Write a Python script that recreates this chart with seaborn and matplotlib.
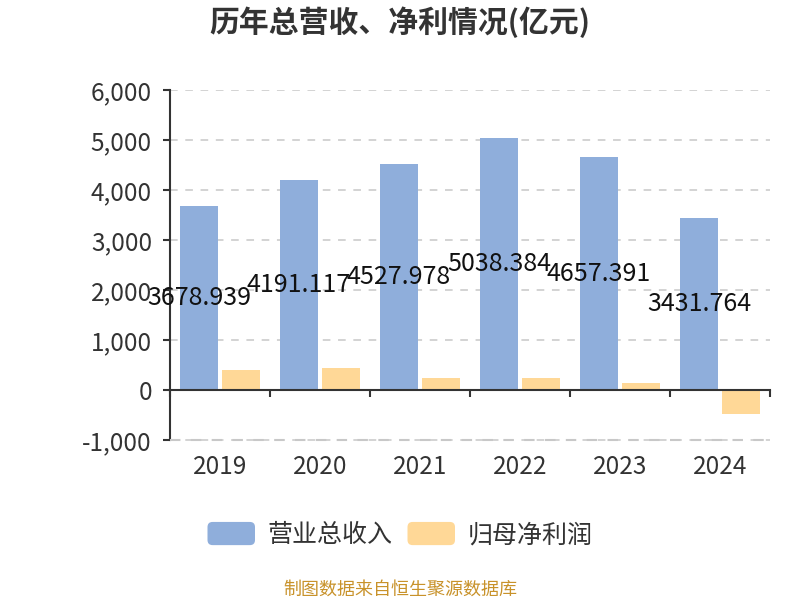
import numpy as np
import pandas as pd
import matplotlib
matplotlib.use('Agg')
import matplotlib.pyplot as plt
import seaborn as sns
from matplotlib.patches import FancyBboxPatch, Patch
from matplotlib.legend_handler import HandlerPatch
from matplotlib.ticker import FuncFormatter

# ---- data ----
years = ['2019', '2020', '2021', '2022', '2023', '2024']
revenue = [3678.939, 4191.117, 4527.978, 5038.384, 4657.391, 3431.764]
net_profit = [405, 435, 235, 240, 140, -475]
series_names = ['营业总收入', '归母净利润']
colors = ['#8FAEDB', '#FFD897']
yticks = [-1000, 0, 1000, 2000, 3000, 4000, 5000, 6000]
title = '历年总营收、净利情况(亿元)'
source = '制图数据来自恒生聚源数据库'

sns.set_theme(style='white')
plt.rcParams['font.family'] = ['Noto Sans CJK SC', 'DejaVu Sans']
plt.rcParams['axes.unicode_minus'] = False

df = pd.DataFrame({
    'year': years * 2,
    'value': revenue + net_profit,
    'series': [series_names[0]] * len(years) + [series_names[1]] * len(years),
})

fig = plt.figure(figsize=(8, 6), dpi=100)
ax = fig.add_axes([0.2125, 1 - 441 / 600, 0.75, 351 / 600])
sns.barplot(data=df, x='year', y='value', hue='series', palette=colors,
            width=0.84, gap=0.1, saturation=1, linewidth=0, ax=ax, legend=False)

ax.set_xlim(-0.5, len(years) - 0.5)
ax.set_ylim(yticks[0] - 20, yticks[-1])
ax.set_yticks(yticks)
ax.yaxis.set_major_formatter(FuncFormatter(lambda v, p: f'{v:,.0f}'))
ax.set_xlabel('')
ax.set_ylabel('')

# value labels for revenue
ax.bar_label(ax.containers[0], labels=[f'{v:.3f}' for v in revenue],
             label_type='center', fontsize=18, color='#111111')

# spines
for s in ['top', 'right']:
    ax.spines[s].set_visible(False)
ax.spines['left'].set_color('#333333')
ax.spines['left'].set_linewidth(1.5)
ax.spines['left'].set_bounds(yticks[0], yticks[-1])
ax.spines['bottom'].set_position(('data', 0))
ax.spines['bottom'].set_color('#333333')
ax.spines['bottom'].set_linewidth(1.5)

# ticks
ax.tick_params(axis='y', left=True, length=5, width=1.5, color='#333333',
               labelsize=17.5, labelcolor='#333333', pad=8)
ax.set_xticks(list(np.arange(len(years)) - 0.5) + [len(years) - 0.5], minor=True)
ax.tick_params(axis='x', which='minor', bottom=True, length=5, width=1.5, color='#333333')
ax.tick_params(axis='x', which='major', bottom=True, length=0, labelsize=17.5,
               labelcolor='#333333', pad=46)

# grid
ax.yaxis.grid(True, linestyle=(0, (5, 5)), color='#c8c8c8', linewidth=1.1)
ax.xaxis.grid(False)
ax.set_axisbelow(True)
ax.axhline(yticks[0], linestyle=(0, (5, 5)), color='#c8c8c8', linewidth=1.5,
           clip_on=False, zorder=5)

# title & source
fig.text(0.5, 1 - 22 / 600, title, ha='center', va='center', fontsize=21.5,
         fontweight='bold', color='#333333')
fig.text(0.5, 1 - 590 / 600, source, ha='center', va='center', fontsize=13,
         color='#C8922A')


class RoundHandler(HandlerPatch):
    def create_artists(self, legend, orig_handle, xdescent, ydescent, width,
                       height, fontsize, trans):
        p = FancyBboxPatch((-xdescent, -ydescent), width, height,
                           boxstyle=f'round,pad=0,rounding_size={height * 0.22}',
                           facecolor=orig_handle.get_facecolor(),
                           edgecolor='none', transform=trans)
        return [p]


handles = [Patch(facecolor=c) for c in colors]
fig.legend(handles, series_names, loc='center', bbox_to_anchor=(0.5, 1 - 535 / 600),
           ncol=2, frameon=False, fontsize=18, handlelength=1.9, handleheight=1.05,
           handletextpad=0.5, columnspacing=0.6, labelcolor='#333333',
           handler_map={Patch: RoundHandler()})

fig.savefig('out.png', dpi=100)
